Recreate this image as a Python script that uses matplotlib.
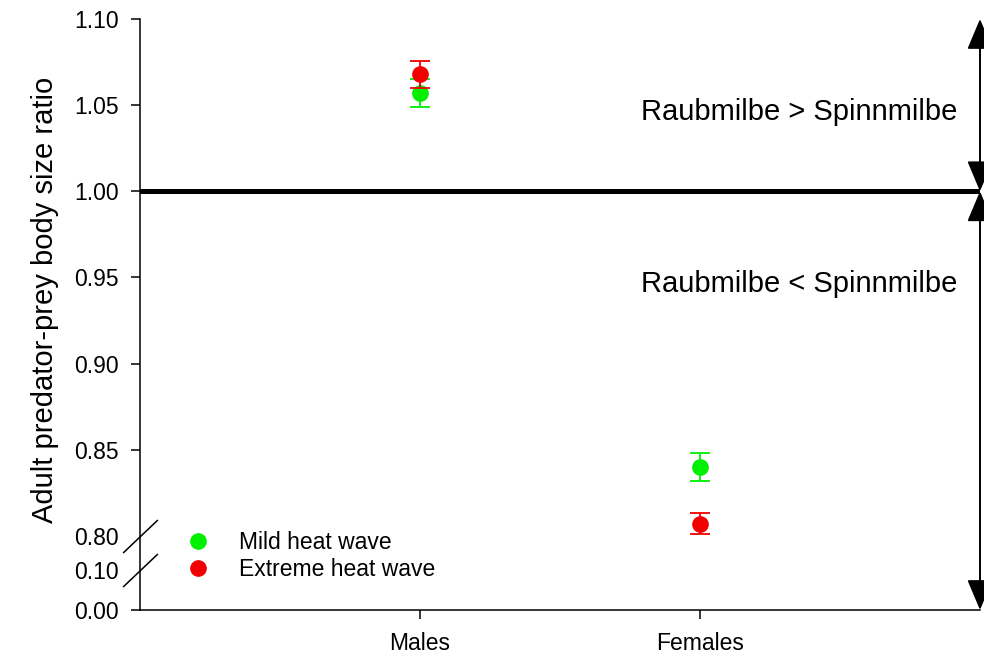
import numpy as np
import matplotlib
matplotlib.use("Agg")
import matplotlib.pyplot as plt
from matplotlib.lines import Line2D

plt.rcParams['font.family'] = ['Liberation Sans', 'DejaVu Sans']

# Data: adult predator/prey body size ratio (mean ± SE)
categories = ['Males', 'Females']
mild = [1.057, 0.840]
mild_err = [0.008, 0.008]
extreme = [1.068, 0.807]
extreme_err = [0.0078, 0.006]
series_labels = ['Mild heat wave', 'Extreme heat wave']
y_ticks = [0.00, 0.10, 0.80, 0.85, 0.90, 0.95, 1.00, 1.05, 1.10]
y_ticklabels = ['0.00', '0.10', '0.80', '0.85', '0.90', '0.95', '1.00', '1.05', '1.10']
reference_ratio = 1.00
above_text = 'Raubmilbe > Spinnmilbe'
below_text = 'Raubmilbe < Spinnmilbe'

GREEN = '#00f000'
RED = '#f00000'

# Broken y axis: 0-0.10 compressed, 0.10-0.80 squeezed into a small gap,
# 0.80-1.10 expanded.
B_LO, B_HI = 0.10, 0.80
S_LO, GAP, S_HI = 400.0, 34.0, 1720.0


def fwd(v):
    v = np.asarray(v, dtype=float)
    return np.where(v <= B_LO, v * S_LO,
                    np.where(v < B_HI,
                             B_LO * S_LO + (v - B_LO) * GAP / (B_HI - B_LO),
                             B_LO * S_LO + GAP + (v - B_HI) * S_HI))


def inv(t):
    t = np.asarray(t, dtype=float)
    t1 = B_LO * S_LO
    t2 = t1 + GAP
    return np.where(t <= t1, t / S_LO,
                    np.where(t < t2,
                             B_LO + (t - t1) * (B_HI - B_LO) / GAP,
                             B_HI + (t - t2) / S_HI))


fig = plt.figure(figsize=(9.84, 6.58), dpi=100)
ax = fig.add_axes([140 / 984, 48 / 658, 840 / 984, 591 / 658])
ax.set_yscale('function', functions=(fwd, inv))
ax.set_ylim(0.0, 1.10)
ax.set_xlim(0, 3)

x = np.arange(1, len(categories) + 1)

ax.errorbar(x, mild, yerr=mild_err, fmt='o', color=GREEN, ecolor=GREEN,
            markersize=11, capsize=7, elinewidth=1.3, capthick=1.3, zorder=3)
ax.errorbar(x, extreme, yerr=extreme_err, fmt='o', color=RED, ecolor=RED,
            markersize=11, capsize=7, elinewidth=1.3, capthick=1.3, zorder=4)

# Reference line at ratio 1
ax.axhline(reference_ratio, color='black', linewidth=3.6, zorder=2)

# Double-headed arrows at the right edge
arrow_kw = dict(arrowstyle='<|-|>,head_length=1.9,head_width=0.8',
                color='black', lw=1.4, shrinkA=0, shrinkB=0,
                mutation_scale=10)
ax.annotate('', xy=(3, 1.10), xytext=(3, reference_ratio),
            arrowprops=arrow_kw, annotation_clip=False)
ax.annotate('', xy=(3, 0.0), xytext=(3, reference_ratio),
            arrowprops=arrow_kw, annotation_clip=False)

ax.text(2.918, 1.046, above_text, ha='right', va='center', fontsize=21)
ax.text(2.918, 0.946, below_text, ha='right', va='center', fontsize=21)

# Axes styling
for side in ('top', 'right'):
    ax.spines[side].set_visible(False)
ax.spines['left'].set_linewidth(1.1)
ax.spines['bottom'].set_linewidth(1.1)

ax.set_yticks(y_ticks)
ax.set_yticklabels(y_ticklabels, fontsize=16.5)
ax.set_xticks(x)
ax.set_xticklabels(categories, fontsize=16.5)
ax.tick_params(axis='y', direction='out', length=6.5, width=1.1, pad=9)
ax.tick_params(axis='x', direction='out', length=6.5, width=1.1, pad=9)

# Axis-break slashes replace the ticks at 0.10 and 0.80
for t in ax.yaxis.get_major_ticks():
    if np.isclose(t.get_loc(), B_LO) or np.isclose(t.get_loc(), B_HI):
        t.tick1line.set_visible(False)
ax.plot([0, 0], [B_HI, B_LO], transform=ax.get_yaxis_transform(),
        linestyle='none', marker=[(-1, -0.95), (1, 0.95)], markersize=25,
        markeredgewidth=1.1, color='black', clip_on=False, zorder=5)

ax.set_ylabel('Adult predator-prey body size ratio', fontsize=21)
ax.yaxis.set_label_coords(-0.097, 0.524)

handles = [Line2D([], [], marker='o', linestyle='none', color=GREEN, markersize=11),
           Line2D([], [], marker='o', linestyle='none', color=RED, markersize=11)]
ax.legend(handles, series_labels, loc='lower left', bbox_to_anchor=(0.044, 0.033),
          frameon=False, fontsize=16.5, handlelength=1.0, handletextpad=1.3,
          labelspacing=0.2, borderaxespad=0)

fig.savefig('out.png', dpi=100)
